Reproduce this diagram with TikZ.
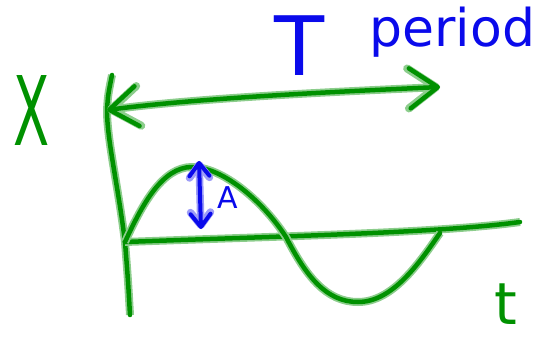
\documentclass[tikz,border=0pt]{standalone}
\usepackage{fontspec}
\setmainfont{DejaVu Sans}
\definecolor{inkgreen}{RGB}{0, 145, 0}
\definecolor{inkblue}{RGB}{10, 10, 235}
\usetikzlibrary{arrows.meta}

\begin{document}
\begin{tikzpicture}[x=1pt, y=-1pt,
  greenpen/.style={draw=inkgreen, line width=4.5pt, line cap=round, line join=round,
        preaction={draw=inkgreen!45, line width=8pt}},
  bluepen/.style={draw=inkblue, line width=4pt, line cap=round, line join=round,
        preaction={draw=inkblue!40, line width=7.5pt}},
  bigbarb/.style={>={Straight Barb[length=28pt, width=40pt, round]}},
  smallbarb/.style={>={Straight Barb[length=13pt, width=20pt, round]}}]
  \useasboundingbox (0,0) rectangle (535,339);
  % axes and wave
  \coordinate (vbot) at (130,315);
  \coordinate (orig) at (125,242);
  \coordinate (vtop) at (112,75);
  \coordinate (hend) at (520,222);
  \coordinate (ptail) at (107,110);
  \coordinate (phead) at (440,87);
  \coordinate (peak) at (192,167);
  \coordinate (cross) at (286,237);
  \coordinate (trough) at (358,302);
  \coordinate (wend) at (440,233);
  \coordinate (abot) at (201,229);
  \coordinate (atop) at (199,161);
  \draw[greenpen] (vbot) .. controls (128,280) .. (orig)
        .. controls (118,185) and (107,140) .. (ptail) .. controls (108,95) .. (vtop);
  \draw[greenpen] (orig) .. controls (285,236) and (440,233) .. (hend);
  \draw[greenpen, bigbarb, <->] (ptail) .. controls (200,98) and (330,92) .. (phead);
  \draw[greenpen] (orig) .. controls (142,205) and (162,167) .. (peak)
        .. controls (222,167) and (262,200) .. (cross)
        .. controls (306,276) and (326,302) .. (trough)
        .. controls (392,302) and (418,265) .. (wend);
  \draw[bluepen, smallbarb, <->] (abot) -- (atop);
  % labels
  \node[text=inkgreen, font=\fontsize{96}{96}\selectfont, xscale=0.55] (xlabel) at (32,111) {X};
  \node[text=inkblue, font=\fontsize{82}{82}\selectfont] (tlabel) at (300,46) {T};
  \node[text=inkblue, font=\fontsize{52}{52}\selectfont, anchor=base west] (period) at (366,47) {period};
  \node[text=inkblue, font=\fontsize{30}{30}\selectfont] (alabel) at (228,198) {A};
  \node[text=inkgreen, font=\fontsize{58}{58}\selectfont, inner sep=0pt, anchor=base] (tvar) at (506,324) {t};
\end{tikzpicture}
\end{document}
